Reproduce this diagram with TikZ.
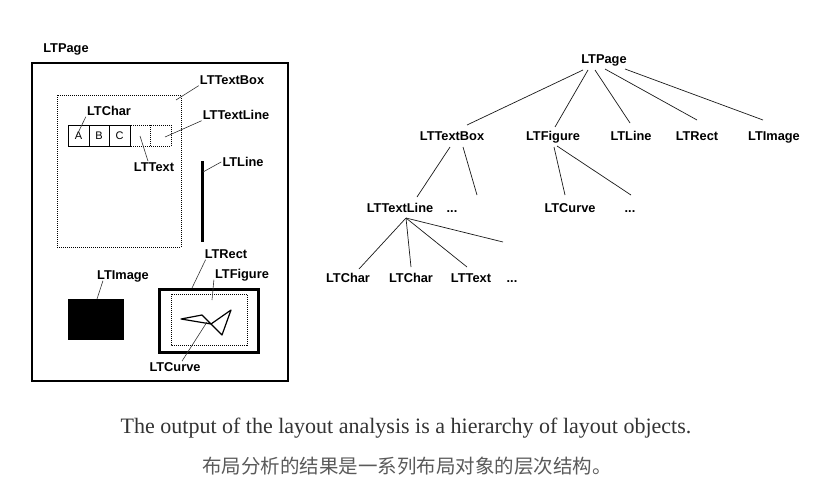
\documentclass[tikz,border=0pt]{standalone}
\usepackage{fontspec}
\setmainfont{Liberation Serif}
\setsansfont{Liberation Sans}
\newfontfamily\cjk{Noto Sans CJK SC}
\usetikzlibrary{calc}
\definecolor{captxt}{HTML}{333333}
\definecolor{cjktxt}{HTML}{5A5A5A}
\tikzset{
  lbl/.style={font=\sffamily\bfseries\fontsize{12.8}{13}\selectfont, inner sep=1pt, anchor=base, text height=9.2pt, text depth=0pt},
  leader/.style={line width=0.6pt, black!80},
  tedge/.style={line width=0.7pt, black!90},
  dotbox/.style={draw, line width=0.7pt, dash pattern=on 1pt off 1pt},
  charbox/.style={draw, line width=0.6pt},
  chartxt/.style={font=\sffamily\fontsize{11}{12}\selectfont, inner sep=0pt},
}
\begin{document}
\begin{tikzpicture}[x=1pt,y=-1pt]
\useasboundingbox (0,0) rectangle (830,493);
% ---------- left picture ----------
\draw[line width=1.6pt] (32,63) rectangle (288,381);
\node[lbl] (lpage) at (66,52.5) {LTPage};
% text box
\draw[dotbox] (57,95) rectangle (181,247);
\node[lbl] (ltbox) at (232,84.5) {LTTextBox};
\coordinate (ptbox) at (176,100);
\draw[leader] (ptbox) -- (ltbox.south west);
% characters
\draw[charbox] (68,125) rectangle (89,146);
\draw[charbox] (89,125) rectangle (109,146);
\draw[charbox] (109,125) rectangle (130,146);
\node[chartxt] (ca) at (78.5,135.5) {A};
\node[chartxt] (cb) at (99,135.5) {B};
\node[chartxt] (cc) at (119.5,135.5) {C};
\draw[dotbox] (130,125) rectangle (171,146);
\draw[line width=0.7pt, dash pattern=on 1pt off 1pt] (150,125) -- (150,146);
\node[lbl] (lchar) at (109,115.5) {LTChar};
\coordinate (pchar) at (77,135);
\draw[leader] (pchar) -- (lchar.south west);
\node[lbl] (ltl) at (236,119.5) {LTTextLine};
\coordinate (ptl) at (165,137);
\draw[leader] (ptl) -- (ltl.south west);
\node[lbl] (ltext) at (154,171.5) {LTText};
\coordinate (ptext) at (140,136);
\draw[leader] (ptext) -- ([xshift=-6pt]ltext.north);
% line
\draw[line width=3pt] (202,161) -- (202,242);
\node[lbl] (lline) at (243,166.5) {LTLine};
\coordinate (pline) at (203,172);
\draw[leader] (pline) -- (lline.west);
% rect and figure
\draw[line width=3pt] (159,289) rectangle (258,352);
\node[lbl] (lrect) at (226,258.5) {LTRect};
\coordinate (prect) at (192,288);
\draw[leader] (prect) -- ([xshift=2pt]lrect.south west);
\draw[dotbox] (171,294) rectangle (247,345);
\node[lbl] (lfig) at (242,278.5) {LTFigure};
\coordinate (pfig) at (212,300);
\draw[leader] (pfig) -- (lfig.south west);
\draw[line width=1.2pt, line join=round] (181,319) -- (202,315) -- (211,324) -- cycle;
\draw[line width=1.2pt, line join=round] (211,324) -- (231,310) -- (222,335) -- cycle;
\node[lbl] (lcurve) at (175,371.5) {LTCurve};
\coordinate (pcurve) at (207,322);
\draw[leader] (pcurve) -- ([xshift=7pt]lcurve.north);
% image
\fill (68,299) rectangle (124,340);
\node[lbl] (limg) at (123,279.5) {LTImage};
\coordinate (pimg) at (97,299);
\draw[leader] (pimg) -- ([xshift=7pt]limg.south west);
% ---------- tree ----------
\node[lbl] (tpage) at (604,63.5) {LTPage};
\node[lbl] (ttbox) at (452,140.5) {LTTextBox};
\node[lbl] (tfig) at (553,140.5) {LTFigure};
\node[lbl] (tline) at (631,140.5) {LTLine};
\node[lbl] (trect) at (697,140.5) {LTRect};
\node[lbl] (timg) at (774,140.5) {LTImage};
\node[lbl] (ttl) at (400,212.5) {LTTextLine};
\node[lbl] (tdotsa) at (452,212.5) {...};
\node[lbl] (tcurve) at (570,212.5) {LTCurve};
\node[lbl] (tdotsb) at (630,212.5) {...};
\node[lbl] (tcha) at (348,282.5) {LTChar};
\node[lbl] (tchb) at (411,282.5) {LTChar};
\node[lbl] (ttext) at (471,282.5) {LTText};
\node[lbl] (tdotsc) at (512,282.5) {...};
\draw[tedge] ($(tpage.base)+(-21,6.5)$) -- ($(ttbox.base)+(15,-15.5)$);
\draw[tedge] ($(tpage.base)+(-16,6.5)$) -- ($(tfig.base)+(2,-13.5)$);
\draw[tedge] ($(tpage.base)+(-9,6.5)$) -- ($(tline.base)+(-1,-17.5)$);
\draw[tedge] ($(tpage.base)+(1,5.5)$) -- ($(trect.base)+(0,-20.5)$);
\draw[tedge] ($(tpage.base)+(21,5.5)$) -- ($(timg.base)+(-11,-20.5)$);
\draw[tedge] ($(ttbox.base)+(-2,6.5)$) -- ($(ttl.base)+(17,-15.5)$);
\draw[tedge] ($(ttbox.base)+(11,6.5)$) -- ($(tdotsa.base)+(25,-17.5)$);
\draw[tedge] ($(tfig.base)+(1,6.5)$) -- ($(tcurve.base)+(-5,-17.5)$);
\draw[tedge] ($(tfig.base)+(4,5.5)$) -- ($(tdotsb.base)+(1,-17.5)$);
\draw[tedge] ($(ttl.base)+(6,5.5)$) -- ($(tcha.base)+(11,-13.5)$);
\draw[tedge] ($(ttl.base)+(6,5.5)$) -- ($(tchb.base)+(0,-15.5)$);
\draw[tedge] ($(ttl.base)+(6,5.5)$) -- ($(ttext.base)+(-4,-15.5)$);
\draw[tedge] ($(ttl.base)+(6,5.5)$) -- ($(tdotsc.base)+(-9,-40.5)$);
% ---------- captions ----------
\node[font=\fontsize{22}{25}\selectfont, text=captxt, inner sep=0pt] (cap1) at (406,428) {The output of the layout analysis is a hierarchy of layout objects.};
\node[font=\cjk\fontsize{19.5}{22}\selectfont, text=cjktxt, inner sep=0pt] (cap2) at (407,466) {布局分析的结果是一系列布局对象的层次结构。};
\end{tikzpicture}
\end{document}
